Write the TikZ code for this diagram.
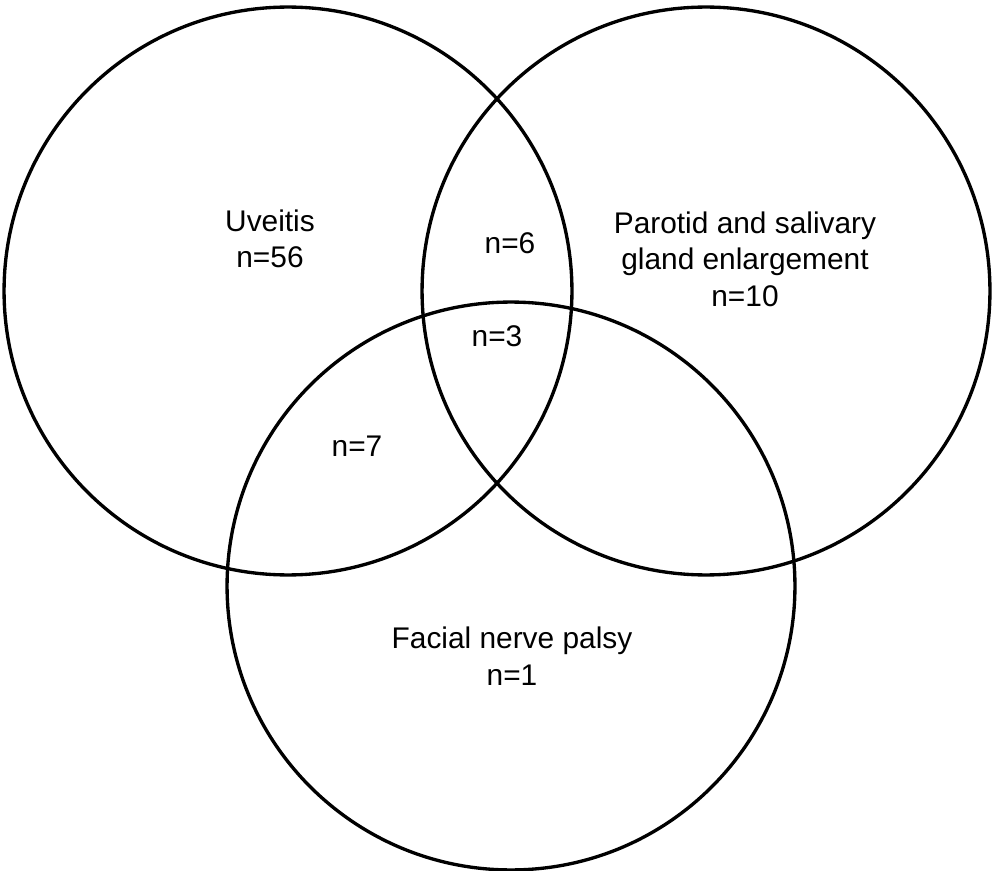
\documentclass[tikz,border=0pt]{standalone}
\usepackage{fontspec}
\setmainfont{Liberation Sans}
\usetikzlibrary{positioning}
\newcommand{\vennfont}{\fontsize{17}{20.8}\selectfont}

\begin{document}
\begin{tikzpicture}[
    x=0.02cm, y=-0.02cm,
    setcircle/.style={circle, draw=black, line width=1.9pt, inner sep=0, minimum size=11.36cm},
    setlabel/.style={align=center, inner sep=0, font=\vennfont}]
\useasboundingbox (0,0) rectangle (993,871);

\node[setcircle] (uveitis) at (288,291) {};
\node[setcircle] (parotid) at (706,291) {};
\node[setcircle] (facial)  at (511,586) {};

\node[setlabel] (uveitisText) at (270,239) {Uveitis\\n=56};
\node[setlabel] (parotidText) at (745,259) {Parotid and salivary\\gland enlargement\\n=10};
\node[setlabel] (facialText)  at (512,656) {Facial nerve palsy\\n=1};
\node[setlabel] (upText)      at (510,243) {n=6};
\node[setlabel] (allText)     at (497,336) {n=3};
\node[setlabel] (ufText)      at (357,446) {n=7};

\end{tikzpicture}
\end{document}
